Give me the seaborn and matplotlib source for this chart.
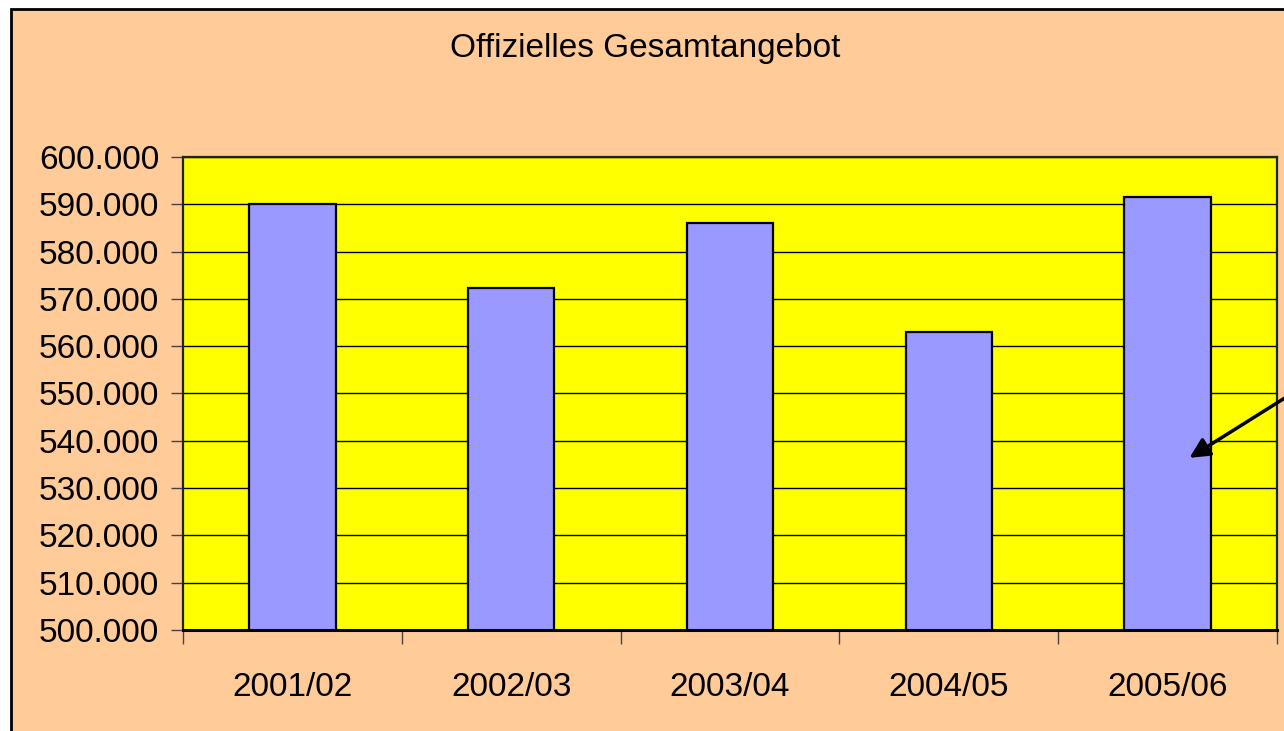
import seaborn as sns
import pandas as pd
from matplotlib import pyplot as plt
from matplotlib.patches import Rectangle
from matplotlib.ticker import FuncFormatter, MultipleLocator, FixedLocator

# data
seasons = ["2001/02", "2002/03", "2003/04", "2004/05", "2005/06"]
angebot = [590000, 572300, 586000, 563000, 591500]

title = "Offizielles Gesamtangebot"

df = pd.DataFrame({"saison": seasons, "angebot": angebot})

sns.set_style("white")
plt.rcParams["font.family"] = ["Liberation Sans", "DejaVu Sans"]
plt.rcParams["text.color"] = "black"
plt.rcParams["xtick.color"] = "black"
plt.rcParams["ytick.color"] = "black"

fig = plt.figure(figsize=(12.84, 7.31), dpi=100)
fig.patch.set_facecolor("white")

# peach chart area with black border at left/top
fig.patches.append(Rectangle((11 / 1284, -0.05), 1.1, 1.05 - 9 / 731,
                             transform=fig.transFigure, facecolor="#FFCC99",
                             edgecolor="black", linewidth=2, zorder=-10))

ax = fig.add_axes([183 / 1284, 1 - 630 / 731, (1277 - 183) / 1284, (630 - 157) / 731])
ax.set_facecolor("#FFFF00")

sns.barplot(data=df, x="saison", y="angebot", color="#9999FF", saturation=1,
            edgecolor="black", linewidth=1.6, width=0.395, ax=ax)

ax.set_ylim(500000, 600000)
ax.set_xlim(-0.5, len(seasons) - 0.5)
ax.yaxis.set_major_locator(MultipleLocator(10000))
ax.yaxis.set_major_formatter(FuncFormatter(lambda v, p: f"{int(v):,}".replace(",", ".")))
ax.grid(axis="y", color="black", linewidth=1)
ax.set_axisbelow(True)

ax.xaxis.set_minor_locator(FixedLocator([i - 0.5 for i in range(len(seasons) + 1)]))
ax.tick_params(axis="x", which="major", length=0, pad=30, labelsize=24, labelcolor="black")
ax.tick_params(axis="x", which="minor", length=10, width=1, direction="out", color="#444444")
ax.tick_params(axis="y", length=9, width=1, direction="out", pad=8, labelsize=24,
               color="#444444", labelcolor="black")
ax.tick_params(axis="both", bottom=True, left=True, which="both")
ax.set_xlabel("")
ax.set_ylabel("")

for side in ["left", "right", "top"]:
    ax.spines[side].set_color("#222222")
    ax.spines[side].set_linewidth(1.6)
ax.spines["bottom"].set_color("black")
ax.spines["bottom"].set_linewidth(2.2)
for s in ax.spines.values():
    s.set_visible(True)

fig.text(645.5 / 1284, 1 - 49 / 731, title, ha="center", va="center", fontsize=24,
         color="black")

ax.annotate("", xy=(4.1, 536400), xytext=(4.62, 551500),
            arrowprops=dict(arrowstyle="-|>", color="black", lw=2.5,
                            mutation_scale=30, shrinkA=0, shrinkB=0),
            annotation_clip=False)

fig.savefig("out.png", dpi=100, facecolor=fig.get_facecolor())
